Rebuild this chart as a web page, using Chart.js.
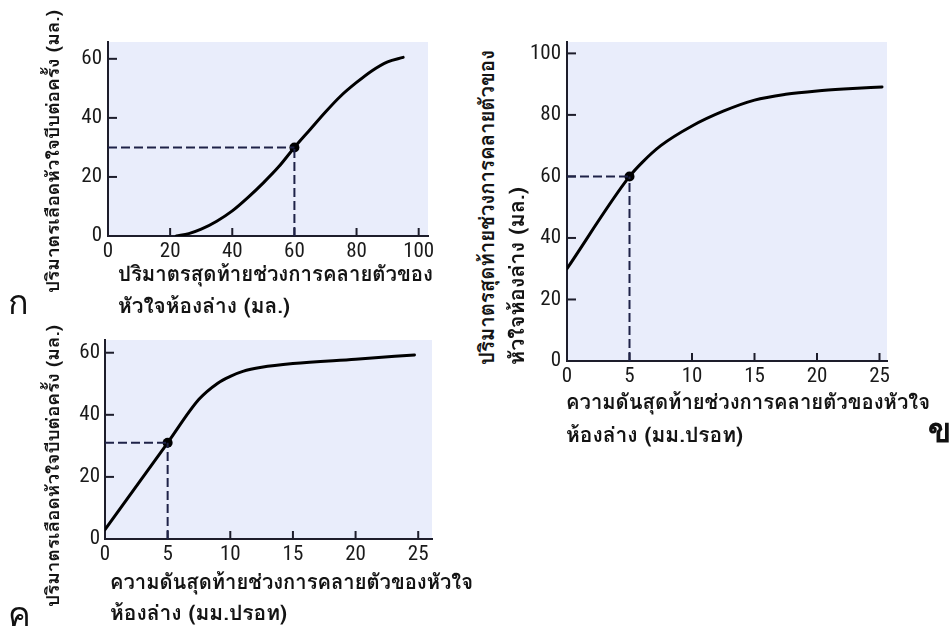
<!DOCTYPE html>
<html><head><meta charset="utf-8">
<script src="https://cdn.jsdelivr.net/npm/chart.js@4.4.1/dist/chart.umd.min.js"></script>
<style>
html,body{margin:0;padding:0;background:#fff;width:949px;height:628px;overflow:hidden;position:relative;}
body{font-family:"Loma","Garuda","Tahoma","Noto Sans Thai","Noto Sans",sans-serif;}
canvas{position:absolute;}
.t{position:absolute;white-space:nowrap;color:#141414;transform-origin:0 0;line-height:1;font-weight:bold;}
.big{position:absolute;line-height:1;color:#111;}
</style></head><body>
<canvas id="cA"></canvas>
<canvas id="cB"></canvas>
<canvas id="cC"></canvas>

<div class="t" data-x="118" data-b="280" data-w="315" data-f="21">ปริมาตรสุดท้ายช่วงการคลายตัวของ</div>
<div class="t" data-x="118" data-b="312" data-w="172" data-f="21">หัวใจห้องล่าง (มล.)</div>
<div class="t" data-x="566" data-b="408" data-w="364" data-f="21">ความดันสุดท้ายช่วงการคลายตัวของหัวใจ</div>
<div class="t" data-x="566" data-b="441" data-w="177" data-f="21">ห้องล่าง (มม.ปรอท)</div>
<div class="t" data-x="110" data-b="588" data-w="363" data-f="21">ความดันสุดท้ายช่วงการคลายตัวของหัวใจ</div>
<div class="t" data-x="110" data-b="619" data-w="177" data-f="21">ห้องล่าง (มม.ปรอท)</div>

<div class="t" data-rot="1" data-x="44" data-y="293" data-w="283" data-f="18">ปริมาตรเลือดหัวใจบีบต่อครั้ง (มล.)</div>
<div class="t" data-rot="1" data-x="44" data-y="607" data-w="282" data-f="18">ปริมาตรเลือดหัวใจบีบต่อครั้ง (มล.)</div>
<div class="t" data-rot="1" data-x="476" data-y="365" data-w="315" data-f="21">ปริมาตรสุดท้ายช่วงการคลายตัวของ</div>
<div class="t" data-rot="1" data-x="506" data-y="365" data-w="178" data-f="21">หัวใจห้องล่าง (มล.)</div>

<div class="big" style="left:8px;top:285px;font-size:34px;">ก</div>
<div class="big" style="left:8px;top:597px;font-size:34px;">ค</div>
<div class="big" style="left:928px;top:414px;font-size:34px;font-weight:bold;font-family:'Kinnari','Norasi','Liberation Serif',serif;">ข</div>

<script>
// ---------- data ----------
const xA = [22, 26, 30, 35, 40, 45, 50, 55, 60, 65, 70, 75, 80, 85, 90, 95];
const yA = [0, 0.8, 2.3, 5, 8.5, 13, 18, 23.5, 30, 36, 42, 47.5, 52, 56, 59, 60.5];
const pointA = [60, 30];
const xTicksA = [0, 20, 40, 60, 80, 100];
const yTicksA = [0, 20, 40, 60];

const xB = [0, 5, 6, 7.5, 10, 12.5, 15, 17.5, 20, 22.5, 25.2];
const yB = [30, 60, 64.5, 70, 76.4, 81.2, 84.8, 86.7, 87.8, 88.5, 89.1];
const pointB = [5, 60];
const xTicksB = [0, 5, 10, 15, 20, 25];
const yTicksB = [0, 20, 40, 60, 80, 100];

const xC = [0, 5, 7.5, 9, 10, 11, 12.5, 15, 20, 24.7];
const yC = [3, 31, 45, 50.2, 52.4, 54, 55.3, 56.5, 57.9, 59.3];
const pointC = [5, 31];
const xTicksC = [0, 5, 10, 15, 20, 25];
const yTicksC = [0, 20, 40, 60];

// ---------- style ----------
const BG = '#e9edfb', AXIS = '#1d1d2b', DASH = '#1e2248', CURVE = '#000000', TXT = '#1a1a1a';
const TICKFONT = {family:'"Liberation Sans Narrow", "Arial Narrow", "Roboto Condensed", "Liberation Sans", Arial, sans-serif', size:21};

const bgPlugin = {id:'bg', beforeDraw(chart){
  const {ctx, chartArea:a} = chart; ctx.save(); ctx.fillStyle = BG;
  ctx.fillRect(a.left, a.top, a.right-a.left, a.bottom-a.top); ctx.restore();
}};
const tickPlugin = {id:'inTicks', beforeDatasetsDraw(chart){
  const {ctx, chartArea:a, scales:{x,y}} = chart; ctx.save();
  ctx.strokeStyle = AXIS; ctx.lineWidth = 2;
  x.ticks.forEach(t=>{const p=x.getPixelForValue(t.value); ctx.beginPath(); ctx.moveTo(p,a.bottom); ctx.lineTo(p,a.bottom-8); ctx.stroke();});
  y.ticks.forEach(t=>{const p=y.getPixelForValue(t.value); ctx.beginPath(); ctx.moveTo(a.left,p); ctx.lineTo(a.left+9,p); ctx.stroke();});
  ctx.restore();
}};

function makeChart(id, cfg){
  const c = document.getElementById(id);
  const padTop = 20, padRight = 25, yW = 50, xH = 30;
  c.width = (cfg.R - cfg.L) + yW + padRight;
  c.height = (cfg.B - cfg.T) + padTop + xH;
  c.style.left = (cfg.L - yW) + 'px';
  c.style.top = (cfg.T - padTop) + 'px';
  const pts = cfg.xs.map((v,i)=>({x:v, y:cfg.ys[i]}));
  const [px, py] = cfg.pt;
  new Chart(c, {
    type:'scatter',
    data:{datasets:[
      {data:[{x:0,y:py},{x:px,y:py}], showLine:true, borderColor:DASH, borderWidth:2, borderDash:[9,4], pointRadius:0},
      {data:[{x:px,y:0},{x:px,y:py}], showLine:true, borderColor:DASH, borderWidth:2, borderDash:[9,4], pointRadius:0},
      {data:pts, showLine:true, borderColor:CURVE, borderWidth:3, pointRadius:0, cubicInterpolationMode:'monotone', borderCapStyle:'round'},
      {data:[{x:px,y:py}], pointRadius:5, pointBackgroundColor:'#000', pointBorderColor:'#000', pointBorderWidth:0}
    ]},
    options:{
      responsive:false, animation:false, events:[],
      layout:{padding:{top:padTop, right:padRight, left:0, bottom:0}},
      plugins:{legend:{display:false}, tooltip:{enabled:false}},
      scales:{
        x:{type:'linear', position:'bottom', min:0, max:cfg.xMax,
          afterBuildTicks:s=>{s.ticks = cfg.xTicks.map(v=>({value:v}));},
          afterFit:s=>{s.height = xH;},
          grid:{display:true, drawOnChartArea:false, drawTicks:false},
          border:{display:true, color:AXIS, width:2},
          ticks:{padding:3, color:TXT, font:TICKFONT, maxRotation:0}},
        y:{type:'linear', min:0, max:cfg.yMax,
          afterBuildTicks:s=>{s.ticks = cfg.yTicks.map(v=>({value:v}));},
          afterFit:s=>{s.width = yW;},
          grid:{display:true, drawOnChartArea:false, drawTicks:false},
          border:{display:true, color:AXIS, width:2},
          ticks:{padding:cfg.yPad, color:TXT, font:TICKFONT}}
      }
    },
    plugins:[bgPlugin, tickPlugin]
  });
}

makeChart('cA', {xs:xA, ys:yA, pt:pointA, xTicks:xTicksA, yTicks:yTicksA, xMax:103, yMax:65.7, L:108, R:428, T:42, B:236, yPad:6});
makeChart('cB', {xs:xB, ys:yB, pt:pointB, xTicks:xTicksB, yTicks:yTicksB, xMax:25.6, yMax:103.7, L:567, R:887, T:42, B:361, yPad:6});
makeChart('cC', {xs:xC, ys:yC, pt:pointC, xTicks:xTicksC, yTicks:yTicksC, xMax:26.1, yMax:64.1, L:105, R:432, T:340, B:539, yPad:5});

// ---------- text fitting ----------
document.querySelectorAll('.t').forEach(el=>{
  const f = +el.dataset.f; el.style.fontSize = f + 'px';
  const w = el.getBoundingClientRect().width;
  const s = (+el.dataset.w) / w;
  el.style.left = el.dataset.x + 'px';
  if (el.dataset.rot) {
    el.style.top = el.dataset.y + 'px';
    el.style.transform = 'rotate(-90deg) scaleX(' + s + ')';
  } else {
    el.style.top = (+el.dataset.b - 0.8*f) + 'px';
    el.style.transform = 'scaleX(' + s + ')';
  }
});
</script>
</body></html>
